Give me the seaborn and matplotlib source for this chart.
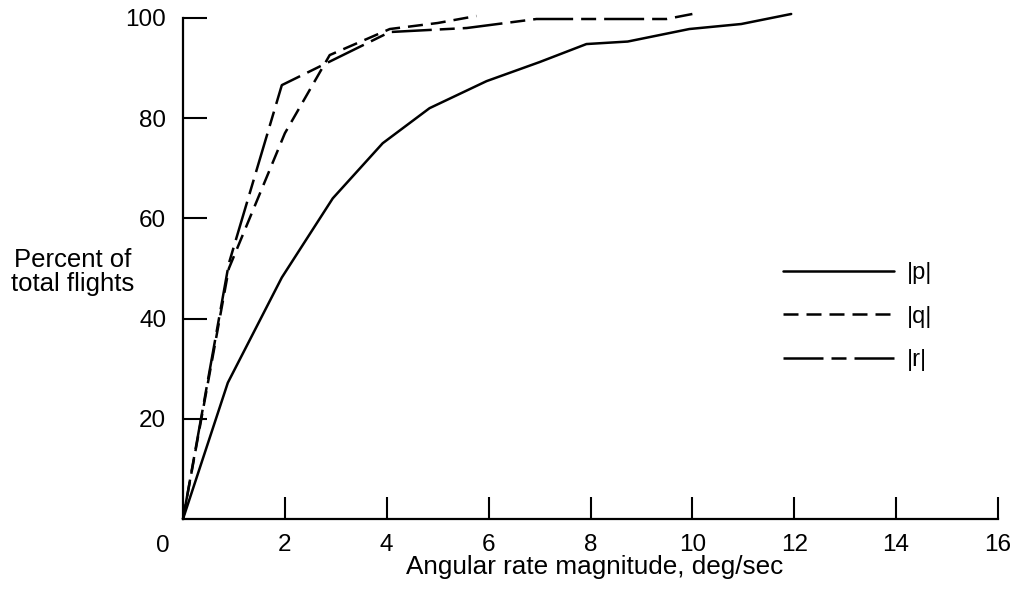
import numpy as np
import pandas as pd
import matplotlib
matplotlib.use("Agg")
import matplotlib.pyplot as plt
import seaborn as sns

# ---- data ----
p_x = [0, 0.88, 1.94, 2.94, 3.92, 4.84, 5.96, 7.0, 7.92, 8.73, 9.94, 10.96, 11.94]
p_y = [0, 27.2, 48.2, 64.0, 75.0, 82.0, 87.4, 91.2, 94.8, 95.3, 97.8, 98.8, 100.8]

q_x = [0, 0.9, 2.0, 2.88, 4.06, 5.0, 5.76]
q_y = [0, 50.0, 77.0, 92.6, 97.8, 99.0, 100.4]

r_x = [0, 0.9, 1.94, 4.06, 5.57, 6.94, 9.49, 10.0]
r_y = [0, 51.0, 86.6, 97.2, 98.0, 99.8, 99.8, 100.8]

series_names = ["|p|", "|q|", "|r|"]
x_ticks = [2, 4, 6, 8, 10, 12, 14, 16]
y_ticks = [20, 40, 60, 80, 100]
x_label = "Angular rate magnitude, deg/sec"
y_label = "Percent of\ntotal flights"

df = pd.concat([
    pd.DataFrame({"x": p_x, "y": p_y, "s": series_names[0]}),
    pd.DataFrame({"x": q_x, "y": q_y, "s": series_names[1]}),
    pd.DataFrame({"x": r_x, "y": r_y, "s": series_names[2]}),
], ignore_index=True)

sns.set_theme(style="ticks")
plt.rcParams["font.family"] = ["Liberation Sans", "DejaVu Sans"]
plt.rcParams["text.color"] = "black"
plt.rcParams["axes.labelcolor"] = "black"
plt.rcParams["xtick.color"] = "black"
plt.rcParams["ytick.color"] = "black"

fig = plt.figure(figsize=(10.18, 5.9), dpi=100)
ax = fig.add_axes([183 / 1018, 1 - 519 / 590, 815 / 1018, 501 / 590])

lw = 1.8
sns.lineplot(data=df, x="x", y="y", style="s", style_order=series_names,
             dashes={"|p|": "", "|q|": (6, 3.2), "|r|": (16, 3.2, 6, 3.2)},
             color="black", linewidth=lw, estimator=None, sort=False,
             ax=ax, legend=True)
for ln in ax.get_lines():
    ln.set_clip_on(False)

ax.set_xlim(0, 16)
ax.set_ylim(0, 100)
ax.set_xticks(x_ticks)
ax.set_yticks(y_ticks)
ax.set_xticklabels([str(v) for v in x_ticks])
ax.set_yticklabels([str(v) for v in y_ticks])

sns.despine(ax=ax)
for sp in ["left", "bottom"]:
    ax.spines[sp].set_linewidth(1.6)
    ax.spines[sp].set_color("black")

ax.tick_params(axis="x", direction="in", length=16, width=1.5, pad=11.0,
               labelsize=17.5, colors="black")
ax.tick_params(axis="y", direction="in", length=17, width=1.5, pad=12,
               labelsize=17.5, colors="black")

# corner zero label
ax.annotate("0", xy=(0, 0), xycoords="data", xytext=(-14.4, -19.5),
            textcoords="offset points", ha="center", va="center",
            fontsize=17.5, color="black")

ax.set_xlabel(x_label, fontsize=18.8, color="black")
ax.xaxis.set_label_coords(0.505, -0.096)
ax.xaxis.label.set_va("center")
ax.set_ylabel(y_label, fontsize=18.5, rotation=0, ha="center", va="center",
              linespacing=1.0, color="black")
ax.yaxis.set_label_coords(-0.135, 0.493)

handles, labels = ax.get_legend_handles_labels()
leg = ax.legend(handles, labels, loc="upper left",
                bbox_to_anchor=(783 / 1018, 1 - 262 / 590),
                bbox_transform=fig.transFigure, frameon=False,
                fontsize=17, handlelength=4.7, handletextpad=0.55,
                labelspacing=0.92, borderpad=0, borderaxespad=0)
for h in leg.get_lines():
    h.set_linewidth(lw)
for t in leg.get_texts():
    t.set_color("black")

ax.set_facecolor("white")
fig.patch.set_facecolor("white")
fig.savefig("out.png", dpi=100)
